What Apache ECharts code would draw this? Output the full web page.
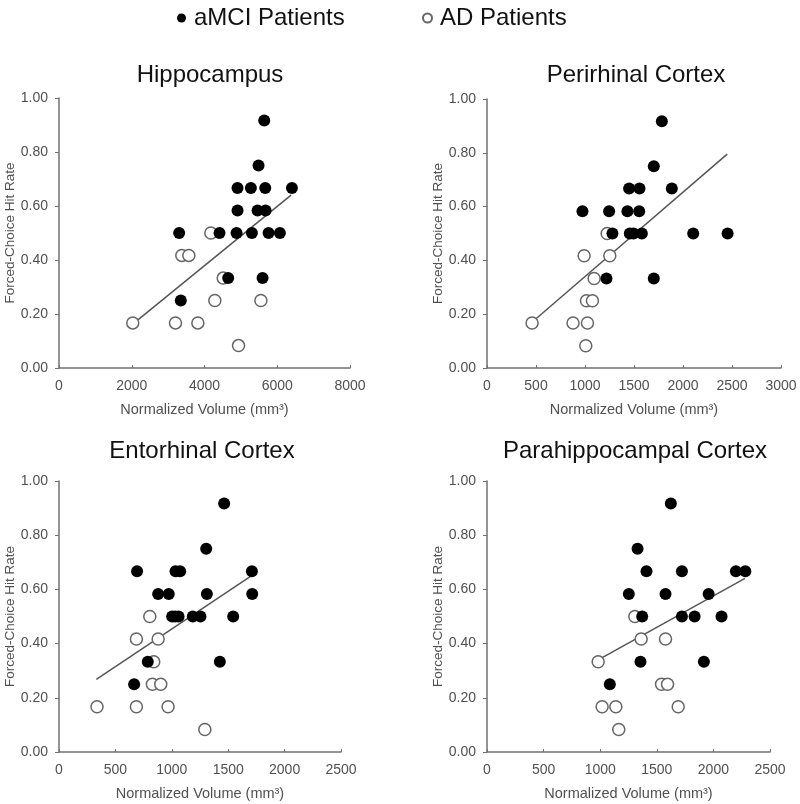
<!DOCTYPE html>
<html>
<head>
<meta charset="utf-8">
<title>Forced-choice hit rate vs volume</title>
<script src="https://cdn.jsdelivr.net/npm/echarts@6/dist/echarts.min.js"></script>
</head>
<body style="margin:0;background:#fff">
<div id="main" style="width:800px;height:804px;"></div>
<script>
var hippoMCI = [[5642,0.917],[5486,0.75],[4908,0.667],[5275,0.667],[5670,0.667],[6404,0.667],
    [4908,0.583],[5459,0.583],[5679,0.583],[3303,0.5],[4413,0.5],[4881,0.5],[5303,0.5],[5761,0.5],[6073,0.5],
    [4651,0.333],[5596,0.333],[3349,0.25]];
var hippoAD = [[4174,0.5],[3376,0.417],[3569,0.417],[4514,0.333],[4284,0.25],[5550,0.25],
    [2028,0.167],[3202,0.167],[3817,0.167],[4936,0.083]];
var hippoFit = [[2060,0.166],[6380,0.640]];

var periMCI = [[1784,0.917],[1702,0.75],[1450,0.667],[1556,0.667],[1886,0.667],
    [974,0.583],[1246,0.583],[1433,0.583],[1553,0.583],
    [1280,0.5],[1457,0.5],[1495,0.5],[1580,0.5],[2104,0.5],[2455,0.5],[1219,0.333],[1702,0.333]];
var periAD = [[1226,0.5],[991,0.417],[1253,0.417],[1093,0.333],[1015,0.25],[1076,0.25],
    [460,0.167],[878,0.167],[1025,0.167],[1008,0.083]];
var periFit = [[500,0.183],[2451,0.795]];

var entoMCI = [[1464,0.917],[1305,0.75],[692,0.667],[1033,0.667],[1074,0.667],[1710,0.667],
    [879,0.583],[973,0.583],[1311,0.583],[1713,0.583],
    [1003,0.5],[1030,0.5],[1060,0.5],[1186,0.5],[1254,0.5],[1544,0.5],[787,0.333],[1426,0.333],[666,0.25]];
var entoAD = [[805,0.5],[686,0.417],[879,0.417],[840,0.333],[828,0.25],[902,0.25],
    [337,0.167],[686,0.167],[967,0.167],[1293,0.083]];
var entoFit = [[331,0.268],[1698,0.648]];

var paraMCI = [[1624,0.917],[1330,0.75],[1409,0.667],[1722,0.667],[2199,0.667],[2282,0.667],
    [1253,0.583],[1577,0.583],[1958,0.583],[1371,0.5],[1722,0.5],[1834,0.5],[2072,0.5],
    [1356,0.333],[1916,0.333],[1085,0.25]];
var paraAD = [[1306,0.5],[1362,0.417],[1577,0.417],[982,0.333],[1542,0.25],[1595,0.25],
    [1017,0.167],[1138,0.167],[1689,0.167],[1164,0.083]];
var paraFit = [[990,0.342],[2279,0.641]];

var panelTitles = ['Hippocampus', 'Perirhinal Cortex', 'Entorhinal Cortex', 'Parahippocampal Cortex'];
var xMax = [8000, 3000, 2500, 2500];
var xStep = [2000, 500, 500, 500];
var panels = [[hippoMCI, hippoAD, hippoFit], [periMCI, periAD, periFit],
              [entoMCI, entoAD, entoFit], [paraMCI, paraAD, paraFit]];

var grids = [
    {left: 59, top: 98, width: 291, height: 270},
    {left: 487, top: 99, width: 294, height: 269},
    {left: 59, top: 481, width: 282, height: 271},
    {left: 487, top: 481, width: 283, height: 271}
];
var titlePos = [[205, 58], [631, 58], [197, 434], [630, 434]];

var font = 'Liberation Sans, Arial, sans-serif';
var axisGray = '#707070';
var labelGray = '#505050';

var title = [], xAxis = [], yAxis = [], series = [];
for (var i = 0; i < 4; i++) {
    title.push({
        text: panelTitles[i], left: titlePos[i][0], top: titlePos[i][1], textAlign: 'center',
        textStyle: {fontFamily: font, fontSize: 24, fontWeight: 'normal', color: '#111'}
    });
    xAxis.push({
        gridIndex: i, type: 'value', min: 0, max: xMax[i], interval: xStep[i],
        name: 'Normalized Volume (mm³)', nameLocation: 'middle', nameGap: 34,
        nameTextStyle: {fontFamily: font, fontSize: 14.5, color: labelGray},
        axisLine: {lineStyle: {color: axisGray, width: 1.5}},
        axisTick: {show: true, inside: true, length: 3, lineStyle: {color: axisGray}},
        axisLabel: {fontFamily: font, fontSize: 14, color: labelGray, margin: 11,
            formatter: function (v) { return String(v); }},
        splitLine: {show: false}
    });
    yAxis.push({
        gridIndex: i, type: 'value', min: 0, max: 1, interval: 0.2,
        name: 'Forced-Choice Hit Rate', nameLocation: 'middle', nameGap: 36, nameRotate: 90,
        nameTextStyle: {fontFamily: font, fontSize: 13.5, color: labelGray},
        axisLine: {show: true, lineStyle: {color: axisGray, width: 1.5}},
        axisTick: {show: true, length: 4, lineStyle: {color: axisGray}},
        axisLabel: {fontFamily: font, fontSize: 14, color: labelGray, margin: 11,
            formatter: function (v) { return v.toFixed(2); }},
        splitLine: {show: false}
    });
    series.push({
        name: 'Fit', type: 'line', xAxisIndex: i, yAxisIndex: i, data: panels[i][2],
        symbol: 'none', lineStyle: {color: '#555', width: 1.5}, z: 1, silent: true
    });
    series.push({
        name: 'AD Patients', type: 'scatter', xAxisIndex: i, yAxisIndex: i, data: panels[i][1],
        symbol: 'circle', symbolSize: 12,
        itemStyle: {color: '#fff', borderColor: '#666', borderWidth: 1.5, opacity: 1}, z: 2
    });
    series.push({
        name: 'aMCI Patients', type: 'scatter', xAxisIndex: i, yAxisIndex: i, data: panels[i][0],
        symbol: 'circle', symbolSize: 12,
        itemStyle: {color: '#000', opacity: 1}, z: 3
    });
}

var legendText = {fontFamily: font, fontSize: 24, color: '#111', padding: [0, 0, 0, 3]};
var myChart = echarts.init(document.getElementById('main'));
myChart.setOption({
    animation: false,
    backgroundColor: '#fff',
    title: title,
    legend: [
        {data: ['aMCI Patients'], top: 1, left: 172, itemWidth: 9, itemHeight: 9, textStyle: legendText},
        {data: ['AD Patients'], top: 1, left: 417, itemWidth: 9, itemHeight: 9, textStyle: legendText}
    ],
    grid: grids,
    xAxis: xAxis,
    yAxis: yAxis,
    series: series
});
</script>
</body>
</html>
